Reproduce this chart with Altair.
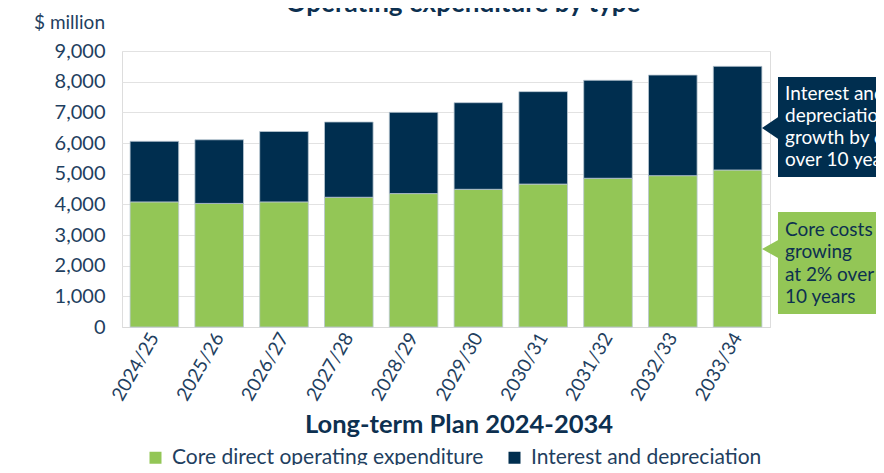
import altair as alt
import pandas as pd

years = ["2024/25", "2025/26", "2026/27", "2027/28", "2028/29",
         "2029/30", "2030/31", "2031/32", "2032/33", "2033/34"]
core = [4080, 4030, 4080, 4230, 4350, 4490, 4660, 4850, 4935, 5120]
interest = [1975, 2075, 2295, 2455, 2650, 2825, 3015, 3195, 3280, 3380]
series = ["Core direct operating expenditure", "Interest and depreciation"]
y_ticks = [0, 1000, 2000, 3000, 4000, 5000, 6000, 7000, 8000, 9000]

title_text = "Operating expenditure by type"
y_title = "$ million"
x_title = "Long-term Plan 2024-2034"
note_navy = ["Interest and", "depreciation", "growth by 6%", "over 10 years"]
note_green = ["Core costs", "growing", "at 2% over", "10 years"]

GREEN = "#93c656"
NAVY = "#002e4f"
TEXT = "#1f3f5f"
FONT = "Lato"

W, H = 648, 276

rows = []
for i, yr in enumerate(years):
    rows.append({"year": yr, "series": series[0], "value": core[i], "ord": 0})
    rows.append({"year": yr, "series": series[1], "value": interest[i], "ord": 1})
df = pd.DataFrame(rows)

bars = alt.Chart(df).mark_bar(stroke="#b9c6d2", strokeWidth=0.8).encode(
    x=alt.X("year:N", sort=years, title=None,
            scale=alt.Scale(paddingInner=0.25, paddingOuter=0.125),
            axis=alt.Axis(labelAngle=-60, labelFontSize=19, labelColor=TEXT,
                          labelFont=FONT, ticks=False, domainColor="#d9d9d9",
                          labelPadding=7, grid=False)),
    y=alt.Y("value:Q", stack="zero", title=None,
            scale=alt.Scale(domain=[0, 9000], nice=False),
            axis=alt.Axis(values=y_ticks, format=",d", labelFontSize=20,
                          labelColor=TEXT, labelFont=FONT, ticks=False,
                          domain=False, labelPadding=17, gridColor="#e2e2e2")),
    color=alt.Color("series:N", scale=alt.Scale(domain=series, range=[GREEN, NAVY]),
                    legend=alt.Legend(title=None, orient="none", legendX=23, legendY=396,
                                      direction="horizontal", symbolType="square",
                                      symbolSize=144, symbolStrokeWidth=0,
                                      labelFontSize=21, labelFont=FONT, labelColor=TEXT,
                                      labelOffset=6, columnPadding=20, labelLimit=400)),
    order=alt.Order("ord:Q"),
)

one = pd.DataFrame({"a": [0]})

title_mark = alt.Chart(one).mark_text(
    text=title_text, font=FONT, fontSize=26, fontWeight="bold", color="#0d3050",
    align="center", baseline="alphabetic").encode(x=alt.value(341), y=alt.value(-39))

ytitle_mark = alt.Chart(one).mark_text(
    text=y_title, font=FONT, fontSize=19, color=TEXT,
    align="right", baseline="middle").encode(x=alt.value(-17), y=alt.value(-28))

xtitle_mark = alt.Chart(one).mark_text(
    text=x_title, font=FONT, fontSize=25.5, fontWeight="bold", color="#0d3050",
    align="center", baseline="alphabetic").encode(x=alt.value(337), y=alt.value(382))

# callout boxes
navy_box = alt.Chart(one).mark_rect(color=NAVY).encode(
    x=alt.value(656), x2=alt.value(820), y=alt.value(26), y2=alt.value(126))
green_box = alt.Chart(one).mark_rect(color=GREEN).encode(
    x=alt.value(656), x2=alt.value(820), y=alt.value(161), y2=alt.value(263))
navy_tri = alt.Chart(one).mark_point(
    shape="M0.2,-1 L-1.28,0 L0.2,1 Z", size=625, filled=True, fill=NAVY,
    strokeWidth=0, opacity=1).encode(x=alt.value(656), y=alt.value(77))
green_tri = alt.Chart(one).mark_point(
    shape="M0.2,-1 L-1.6,0 L0.2,1 Z", size=400, filled=True, fill=GREEN,
    strokeWidth=0, opacity=1).encode(x=alt.value(656), y=alt.value(198))

navy_lines = pd.DataFrame({"t": note_navy, "i": [0, 1, 2, 3]})
green_lines = pd.DataFrame({"t": note_green, "i": [0, 1, 2, 3]})

navy_text = alt.Chart(navy_lines).mark_text(
    font=FONT, fontSize=19, color="white", align="left", baseline="middle").encode(
    text="t:N", x=alt.value(663),
    y=alt.Y("i:Q", scale=alt.Scale(domain=[0, 3], range=[43, 109]), axis=None))
green_text = alt.Chart(green_lines).mark_text(
    font=FONT, fontSize=19, color="#0d3050", align="left", baseline="middle").encode(
    text="t:N", x=alt.value(663),
    y=alt.Y("i:Q", scale=alt.Scale(domain=[0, 3], range=[179, 246]), axis=None))

chart = alt.layer(
    bars, title_mark, ytitle_mark, xtitle_mark,
    navy_box, green_box, navy_tri, green_tri, navy_text, green_text
).resolve_scale(y="independent").properties(
    width=W, height=H,
    autosize=alt.AutoSizeParams(type="none"),
    padding={"left": 114, "top": 43, "right": 106, "bottom": 138},
).configure_view(stroke=None).configure(font=FONT)

chart.save("out.html", embed_options={"renderer": "svg", "actions": False})
